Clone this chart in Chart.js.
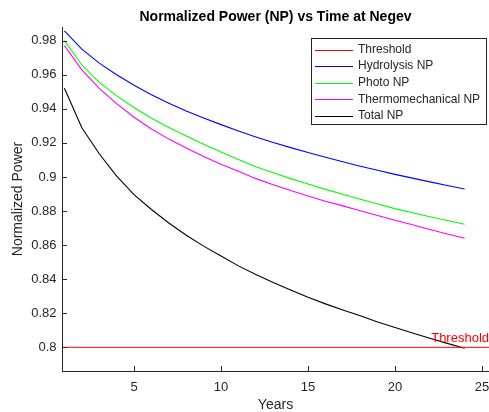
<!DOCTYPE html>
<html>
<head>
<meta charset="utf-8">
<title>Normalized Power (NP) vs Time at Negev</title>
<script src="https://cdn.jsdelivr.net/npm/chart.js@4.4.0/dist/chart.umd.min.js"></script>
<style>
  html, body { margin: 0; padding: 0; background: #fff; }
  #wrap { width: 489px; height: 412px; }
</style>
</head>
<body>
<div id="wrap"><canvas id="npChart" width="489" height="412"></canvas></div>
<script>
/* ── Data ─────────────────────────────────────────────────────────────── */
const years = [1, 2, 3, 4, 5, 6, 7, 8, 9, 10, 11, 12, 13, 14, 15, 16, 17, 18, 19, 20, 21, 22, 23, 24];

const hydrolysisNP = [0.9857, 0.9750, 0.9668, 0.9600, 0.9538, 0.9483, 0.9433, 0.9387, 0.9346, 0.9307, 0.9270, 0.9235,
                      0.9202, 0.9172, 0.9143, 0.9116, 0.9089, 0.9063, 0.9039, 0.9015, 0.8993, 0.8971, 0.8950, 0.8929];
const photoNP      = [0.9800, 0.9657, 0.9555, 0.9476, 0.9408, 0.9345, 0.9290, 0.9240, 0.9192, 0.9146, 0.9103, 0.9060,
                      0.9024, 0.8990, 0.8958, 0.8927, 0.8898, 0.8869, 0.8841, 0.8814, 0.8790, 0.8766, 0.8744, 0.8722];
const thermoNP     = [0.9771, 0.9628, 0.9520, 0.9430, 0.9350, 0.9281, 0.9222, 0.9170, 0.9120, 0.9074, 0.9033, 0.8990,
                      0.8954, 0.8920, 0.8888, 0.8857, 0.8830, 0.8802, 0.8774, 0.8746, 0.8719, 0.8691, 0.8665, 0.8640];
const totalNP      = [0.9520, 0.9289, 0.9136, 0.9005, 0.8896, 0.8809, 0.8730, 0.8658, 0.8594, 0.8536, 0.8478, 0.8428,
                      0.8381, 0.8337, 0.8294, 0.8255, 0.8219, 0.8185, 0.8149, 0.8116, 0.8084, 0.8053, 0.8023, 0.7994];

const thresholdValue = 0.8;
const xLimits = [0.86, 25.4];
const yLimits = [0.7861, 0.9880];
const xTicks = [5, 10, 15, 20, 25];
const yTicks = [0.8, 0.82, 0.84, 0.86, 0.88, 0.9, 0.92, 0.94, 0.96, 0.98];

/* ── Style ────────────────────────────────────────────────────────────── */
const FONT = '"Liberation Sans", Arial, Helvetica, sans-serif';
const INK = "#262626";

Chart.defaults.font.family = FONT;
Chart.defaults.color = INK;

const toPoints = (ys) => years.map((x, i) => ({ x, y: ys[i] }));

/* ── MATLAB-ish extras: inward ticks, boxed legend, threshold label ──── */
const matlabExtras = {
  id: "matlabExtras",
  afterDatasetsDraw(chart) {
    const { ctx, chartArea, scales } = chart;
    const tick = 5;
    ctx.save();
    ctx.strokeStyle = INK;
    ctx.lineWidth = 1;
    ctx.beginPath();
    scales.x.ticks.forEach((t) => {
      const px = Math.round(scales.x.getPixelForValue(t.value)) + 0.5;
      ctx.moveTo(px, chartArea.bottom);
      ctx.lineTo(px, chartArea.bottom - tick);
    });
    scales.y.ticks.forEach((t) => {
      const py = Math.round(scales.y.getPixelForValue(t.value)) + 0.5;
      ctx.moveTo(chartArea.left, py);
      ctx.lineTo(chartArea.left + tick, py);
    });
    ctx.stroke();

    // threshold label, right aligned just above the line
    const ty = scales.y.getPixelForValue(thresholdValue);
    ctx.fillStyle = "#ff0000";
    ctx.font = `13px ${FONT}`;
    ctx.textAlign = "right";
    ctx.textBaseline = "alphabetic";
    ctx.fillText("Threshold", chartArea.right, ty - 5);

    // legend box
    const box = { x: 311, y: 38.5, w: 175, h: 86 };
    ctx.fillStyle = "#ffffff";
    ctx.fillRect(box.x, box.y, box.w, box.h);
    ctx.strokeStyle = INK;
    ctx.strokeRect(box.x + 0.5, box.y, box.w, box.h);
    ctx.font = `12px ${FONT}`;
    ctx.textAlign = "left";
    ctx.textBaseline = "middle";
    chart.data.datasets.forEach((ds, i) => {
      const cy = 49.5 + i * 16.6;
      ctx.strokeStyle = ds.borderColor;
      ctx.beginPath();
      ctx.moveTo(315, Math.round(cy) + 0.5);
      ctx.lineTo(353, Math.round(cy) + 0.5);
      ctx.stroke();
      ctx.fillStyle = INK;
      ctx.fillText(ds.label, 358, cy);
    });
    ctx.restore();
  }
};

const line = (label, ys, color) => ({
  label,
  data: toPoints(ys),
  borderColor: color,
  backgroundColor: color,
  borderWidth: 1.1,
  pointRadius: 0,
  tension: 0,
});

new Chart(document.getElementById("npChart"), {
  type: "line",
  data: {
    datasets: [
      {
        label: "Threshold",
        data: xLimits.map((x) => ({ x, y: thresholdValue })),
        borderColor: "#ff0000",
        backgroundColor: "#ff0000",
        borderWidth: 1,
        pointRadius: 0,
      },
      line("Hydrolysis NP", hydrolysisNP, "#0000ff"),
      line("Photo NP", photoNP, "#00ff00"),
      line("Thermomechanical NP", thermoNP, "#ff00ff"),
      line("Total NP", totalNP, "#000000"),
    ]
  },
  options: {
    responsive: false,
    animation: false,
    devicePixelRatio: 1,
    layout: { padding: 0 },
    plugins: {
      legend: { display: false },
      tooltip: { enabled: false },
      title: {
        display: true,
        fullSize: false,
        text: "Normalized Power (NP) vs Time at Negev",
        color: "#000000",
        font: { size: 14, weight: "bold" },
        padding: { top: 8.6, bottom: 1.6 },
      },
    },
    scales: {
      x: {
        type: "linear",
        min: xLimits[0],
        max: xLimits[1],
        afterBuildTicks: (s) => { s.ticks = xTicks.map((value) => ({ value })); },
        afterFit: (s) => { s.height = 41; s.paddingLeft = 0; s.paddingRight = 0; },
        grid: { drawOnChartArea: false, drawTicks: false },
        border: { display: true, color: INK, width: 1 },
        ticks: { padding: 9, font: { size: 13 }, color: INK, maxRotation: 0 },
        title: { display: true, text: "Years", font: { size: 14 }, color: INK, padding: { top: 0, bottom: -2 } },
      },
      y: {
        min: yLimits[0],
        max: yLimits[1],
        afterBuildTicks: (s) => { s.ticks = yTicks.map((value) => ({ value })); },
        afterFit: (s) => { s.width = 62; s.paddingTop = 0; s.paddingBottom = 0; },
        grid: { drawOnChartArea: false, drawTicks: false },
        border: { display: true, color: INK, width: 1 },
        ticks: {
          padding: 5.5,
          font: { size: 13 },
          color: INK,
          callback: (v) => String(Number(v.toFixed(2))),
        },
        title: { display: true, text: "Normalized Power", font: { size: 14 }, color: INK, padding: { top: 10, bottom: 0 } },
      }
    }
  },
  plugins: [matlabExtras]
});
</script>
</body>
</html>
